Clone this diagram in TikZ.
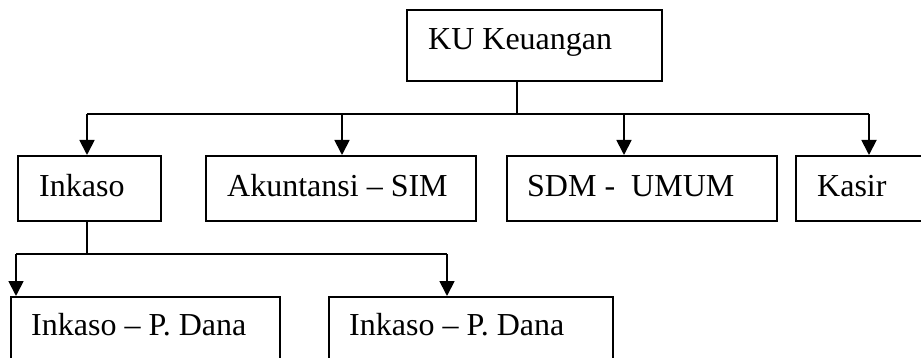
\documentclass[tikz,border=0pt]{standalone}
\usepackage{fontspec}
\setmainfont{Liberation Serif}
\usetikzlibrary{arrows.meta}
\begin{document}
\begin{tikzpicture}[x=1pt,y=-1pt,
  box/.style={draw,line width=1.8pt,rectangle,inner sep=0pt,anchor=north west},
  lbl/.style={anchor=base west,inner sep=0pt,font=\fontsize{32}{38}\selectfont},
  conn/.style={line width=1.8pt},
  arr/.style={line width=1.8pt,-{Triangle[width=15pt,length=15pt]}}]
\clip (0,0) rectangle (921,358);
\fill[white] (0,0) rectangle (921,358);
% boxes
\node[box,minimum width=255pt,minimum height=71pt] (ku) at (406,9) {};
\node[box,minimum width=143pt,minimum height=65pt] (inkaso) at (17,155) {};
\node[box,minimum width=270pt,minimum height=65pt] (akun) at (205,155) {};
\node[box,minimum width=270pt,minimum height=65pt] (sdm) at (506,155) {};
\node[box,minimum width=160pt,minimum height=65pt] (kasir) at (795,155) {};
\node[box,minimum width=269pt,minimum height=90pt] (pd1) at (10,296) {};
\node[box,minimum width=284pt,minimum height=90pt] (pd2) at (328,296) {};
% labels
\node[lbl] (tku) at (428,50) {KU Keuangan};
\node[lbl] (tink) at (39,197) {Inkaso};
\node[lbl] (takun) at (227,197) {Akuntansi – SIM};
\node[lbl] (tsdm) at (527,197) {SDM -\ \ UMUM};
\node[lbl] (tkas) at (817,197) {Kasir};
\node[lbl] (tpd1) at (31,335) {Inkaso – P. Dana};
\node[lbl] (tpd2) at (349,335) {Inkaso – P. Dana};
% connectors level 1
\coordinate (j1) at (517,114);
\coordinate (b1) at (87,114);
\coordinate (b2) at (342,114);
\coordinate (b3) at (624,114);
\coordinate (b4) at (869,114);
\draw[conn] (ku.south -| j1) -- (j1);
\draw[conn] (b1) -- (b4);
\draw[arr] (b1) -- (b1 |- inkaso.north);
\draw[arr] (b2) -- (b2 |- akun.north);
\draw[arr] (b3) -- (b3 |- sdm.north);
\draw[arr] (b4) -- (b4 |- kasir.north);
% connectors level 2
\coordinate (j2) at (87,254);
\coordinate (c1) at (16,254);
\coordinate (c2) at (447,254);
\draw[conn] (inkaso.south -| j2) -- (j2);
\draw[conn] (c1) -- (c2);
\draw[arr] (c1) -- (c1 |- pd1.north);
\draw[arr] (c2) -- (c2 |- pd2.north);
\end{tikzpicture}
\end{document}
